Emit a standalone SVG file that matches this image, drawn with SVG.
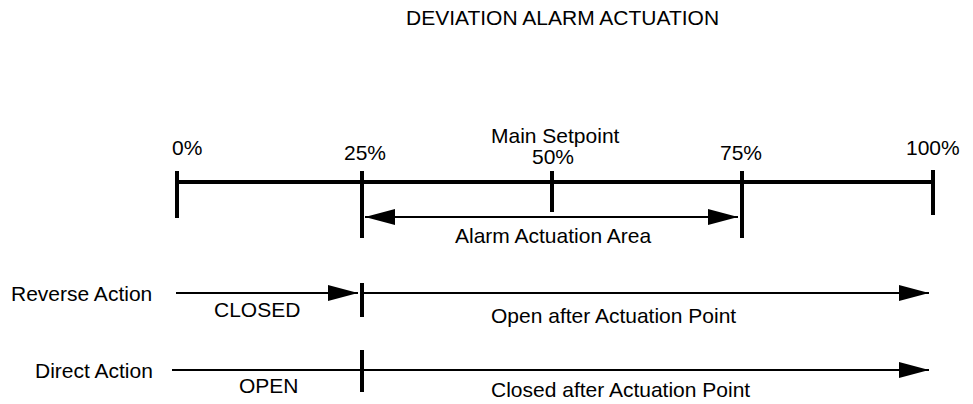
<svg xmlns="http://www.w3.org/2000/svg" width="973" height="404" viewBox="0 0 973 404">
  <defs>
    <marker id="arrow" markerUnits="userSpaceOnUse" markerWidth="30" markerHeight="16" viewBox="0 0 30 16" refX="30" refY="8" orient="auto-start-reverse">
      <path d="M0,0 L30,8 L0,16 Z" fill="#000"/>
    </marker>
  </defs>
  <style>
    text { font-family: "Liberation Sans", Arial, sans-serif; font-size: 21px; fill: #000; }
    .scale { stroke: #000; stroke-width: 4; fill: none; }
    .tick { stroke: #000; stroke-width: 4; fill: none; }
    .thin { stroke: #000; stroke-width: 2; fill: none; }
  </style>
  <rect width="973" height="404" fill="#fff"/>

  <text id="title" x="406" y="25" font-size="20.8">DEVIATION ALARM ACTUATION</text>

  <!-- percentage scale -->
  <g id="scale">
    <line class="scale" x1="176" y1="182" x2="933" y2="182"/>
    <line class="tick" x1="177" y1="171" x2="177" y2="218"/>
    <line class="tick" x1="362" y1="171" x2="362" y2="238"/>
    <line class="tick" x1="552" y1="171" x2="552" y2="212"/>
    <line class="tick" x1="742" y1="171" x2="742" y2="238"/>
    <line class="tick" x1="933" y1="170" x2="933" y2="215"/>
  </g>
  <g id="label-0"><text x="172" y="155">0%</text></g>
  <g id="label-25"><text x="344" y="160">25%</text></g>
  <g id="label-50"><text x="491" y="143">Main Setpoint</text><text x="532" y="164">50%</text></g>
  <g id="label-75"><text x="720" y="160">75%</text></g>
  <g id="label-100"><text x="906" y="155">100%</text></g>

  <!-- reverse action row -->
  <g id="reverse-action">
    <text x="11" y="301">Reverse Action</text>
    <text x="214" y="317">CLOSED</text>
    <line class="tick" x1="362" y1="283" x2="362" y2="317"/>
    <text x="491" y="323">Open after Actuation Point</text>
  </g>

  <!-- direct action row -->
  <g id="direct-action">
    <text x="35" y="378">Direct Action</text>
    <text x="239" y="393">OPEN</text>
    <line class="tick" x1="362" y1="350" x2="362" y2="392"/>
    <text x="491" y="397">Closed after Actuation Point</text>
  </g>

  <g id="alarm-area"><text x="455" y="243">Alarm Actuation Area</text></g>

  <!-- arrows -->
  <g id="connectors">
    <line class="thin" x1="365" y1="217" x2="738" y2="217" marker-start="url(#arrow)" marker-end="url(#arrow)"/>
    <line class="thin" x1="176" y1="293" x2="358" y2="293" marker-end="url(#arrow)"/>
    <line class="thin" x1="364" y1="293" x2="929" y2="293" marker-end="url(#arrow)"/>
    <line class="thin" x1="172" y1="370" x2="929" y2="370" marker-end="url(#arrow)"/>
  </g>
</svg>
